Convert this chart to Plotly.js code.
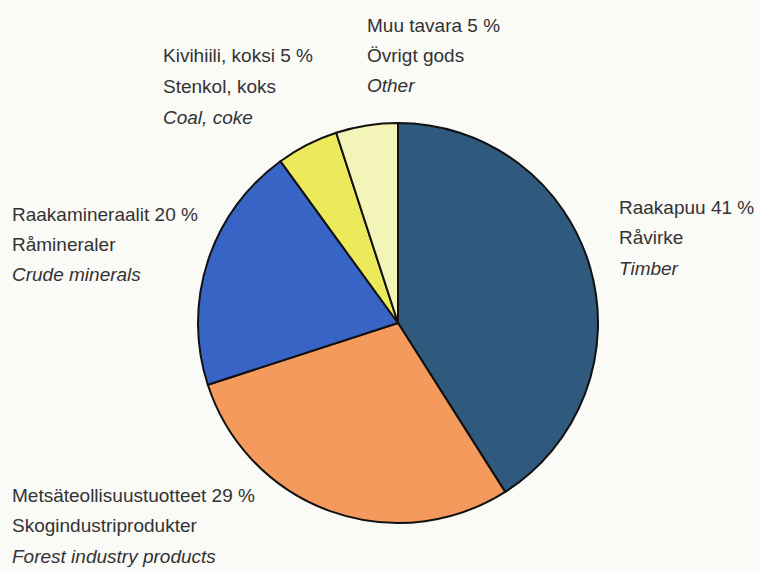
<!DOCTYPE html>
<html>
<head>
<meta charset="utf-8">
<script src="https://cdn.plot.ly/plotly-3.0.1.min.js"></script>
<style>html,body{margin:0;padding:0;background:#fafaf7;}#chart{width:760px;height:571px;}</style>
</head>
<body>
<div id="chart"></div>
<script>
// Data
const categoriesFi = ["Raakapuu", "Metsäteollisuustuotteet", "Raakamineraalit", "Kivihiili, koksi", "Muu tavara"];
const categoriesSv = ["Råvirke", "Skogindustriprodukter", "Råmineraler", "Stenkol, koks", "Övrigt gods"];
const categoriesEn = ["Timber", "Forest industry products", "Crude minerals", "Coal, coke", "Other"];
const shares = [41, 29, 20, 5, 5];
const sliceColors = ["#2f5a7e", "#f39a5c", "#3864c6", "#ecea5a", "#f3f4b8"];

// Label placement (layout only): left edge px, first baseline px
const labelPos = [
  {x: 619, y: 214},
  {x: 12,  y: 502},
  {x: 12,  y: 221},
  {x: 163, y: 63},
  {x: 367, y: 32}
];
const W = 760, H = 571, LINE = 30.5, FS = 19;

const annotations = [];
categoriesFi.forEach((fi, i) => {
  const lines = [fi + " " + shares[i] + " %", categoriesSv[i], "<i>" + categoriesEn[i] + "</i>"];
  lines.forEach((t, j) => {
    const base = labelPos[i].y + j * LINE;
    annotations.push({
      xref: "paper", yref: "paper",
      x: (labelPos[i].x - 2) / W, y: 1 - (base - 7) / H,
      xanchor: "left", yanchor: "middle",
      text: t, showarrow: false,
      font: {family: "Arial", size: FS, color: "#333333"}
    });
  });
});

const trace = {
  type: "pie",
  values: shares,
  labels: categoriesFi,
  sort: false,
  direction: "clockwise",
  rotation: 0,
  textinfo: "none",
  hoverinfo: "none",
  showlegend: false,
  marker: {colors: sliceColors, line: {color: "#111111", width: 2}},
  domain: {x: [198 / W, 598 / W], y: [1 - 524 / H, 1 - 122 / H]}
};

const layout = {
  width: W, height: H,
  margin: {l: 0, r: 0, t: 0, b: 0},
  paper_bgcolor: "#fafaf7",
  plot_bgcolor: "#fafaf7",
  showlegend: false,
  font: {family: "Arial"},
  annotations: annotations
};

Plotly.newPlot("chart", [trace], layout, {displayModeBar: false, staticPlot: true});
</script>
</body>
</html>
